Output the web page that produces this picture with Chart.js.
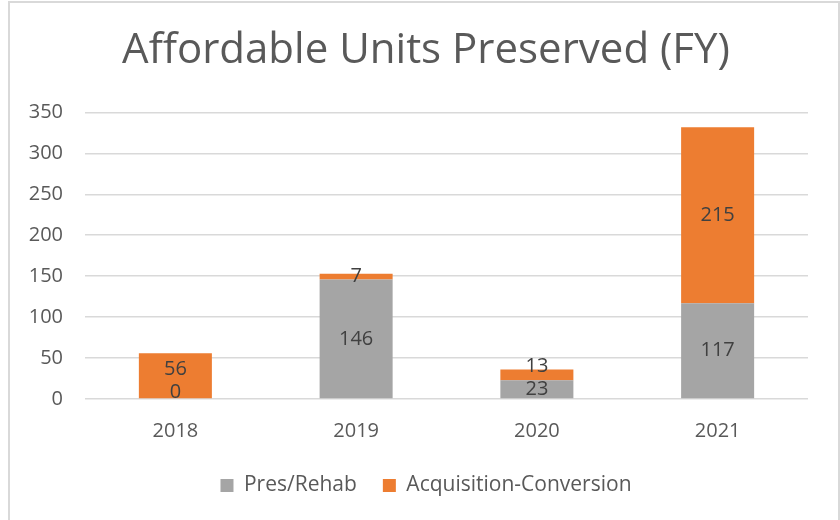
<!DOCTYPE html>
<html>
<head>
<meta charset="utf-8">
<script src="https://cdn.jsdelivr.net/npm/chart.js@4"></script>
<style>
  body { margin: 0; background: #fff; }
  #frame {
    position: absolute; left: 8px; top: 1px;
    width: 828px; height: 530px;
    border: 2px solid #d9d9d9; background: #fff;
  }
  #wrap { position: relative; width: 828px; height: 517px; }
</style>
</head>
<body>
<div id="frame"><div id="wrap"><canvas id="my-chart"></canvas></div></div>
<script>
const years = ["2018", "2019", "2020", "2021"];
const presRehab = [0, 146, 23, 117];
const acquisition = [56, 7, 13, 215];
const yTicks = [0, 50, 100, 150, 200, 250, 300, 350];

const textColor = "#595959";
const fontFamily = "'Open Sans', 'Liberation Sans', sans-serif";

// draw the value in the middle of every bar piece,
// keep it inside the plot and push it up when it would sit on the one below
const barLabels = {
  id: "barLabels",
  afterDatasetsDraw(chart) {
    const ctx = chart.ctx;
    const h = 23;
    const bottom = chart.chartArea.bottom;
    ctx.save();
    ctx.font = "20px " + fontFamily;
    ctx.fillStyle = "#404040";
    ctx.textAlign = "center";
    ctx.textBaseline = "middle";
    chart.data.labels.forEach((lbl, j) => {
      let prev = null;
      chart.data.datasets.forEach((ds, i) => {
        const bar = chart.getDatasetMeta(i).data[j];
        let mid = (bar.y + bar.base) / 2;
        mid = Math.min(mid, bottom - 7);
        if (prev !== null && mid > prev - h) mid = prev - h;
        ctx.fillText(ds.data[j], bar.x, mid);
        prev = mid;
      });
    });
    ctx.restore();
  }
};

const ctx = document.getElementById("my-chart").getContext("2d");

const myChart = new Chart(ctx, {
  type: "bar",
  data: {
    labels: years,
    datasets: [
      {
        label: "Pres/Rehab",
        backgroundColor: "#a5a5a5",
        data: presRehab,
        categoryPercentage: 1,
        barPercentage: 0.404
      },
      {
        label: "Acquisition-Conversion",
        backgroundColor: "#ed7d31",
        data: acquisition,
        categoryPercentage: 1,
        barPercentage: 0.404
      }
    ]
  },
  options: {
    responsive: true,
    maintainAspectRatio: false,
    animation: false,
    layout: { padding: { left: 19, right: 15, top: 0, bottom: 14 } },
    plugins: {
      title: {
        display: true,
        text: "Affordable Units Preserved (FY)",
        color: textColor,
        font: { family: fontFamily, size: 42, weight: "normal" },
        padding: { top: 23, bottom: 36 }
      },
      legend: {
        position: "bottom",
        labels: {
          color: textColor,
          font: { family: fontFamily, size: 21 },
          boxWidth: 13,
          boxHeight: 13,
          padding: 26
        }
      },
      tooltip: { enabled: false }
    },
    scales: {
      x: {
        stacked: true,
        grid: { display: false, drawTicks: false },
        border: { display: false },
        ticks: { color: textColor, font: { family: fontFamily, size: 20 }, padding: 20 },
        afterFit: axis => { axis.height = 50; }
      },
      y: {
        stacked: true,
        min: 0,
        max: 350,
        afterBuildTicks: axis => {
          axis.ticks = yTicks.map(v => ({ value: v }));
        },
        grid: { color: "#d9d9d9", lineWidth: 1.5, drawTicks: false },
        border: { display: false },
        ticks: { color: textColor, font: { family: fontFamily, size: 20 }, padding: 22 },
        afterFit: axis => { axis.width = 56; }
      },
      // empty right-hand margin so the plot ends where the reference does
      yRight: {
        position: "right",
        grid: { display: false, drawTicks: false },
        border: { display: false },
        ticks: { display: false },
        afterFit: axis => { axis.width = 15; }
      }
    }
  },
  plugins: [barLabels]
});
</script>
</body>
</html>
